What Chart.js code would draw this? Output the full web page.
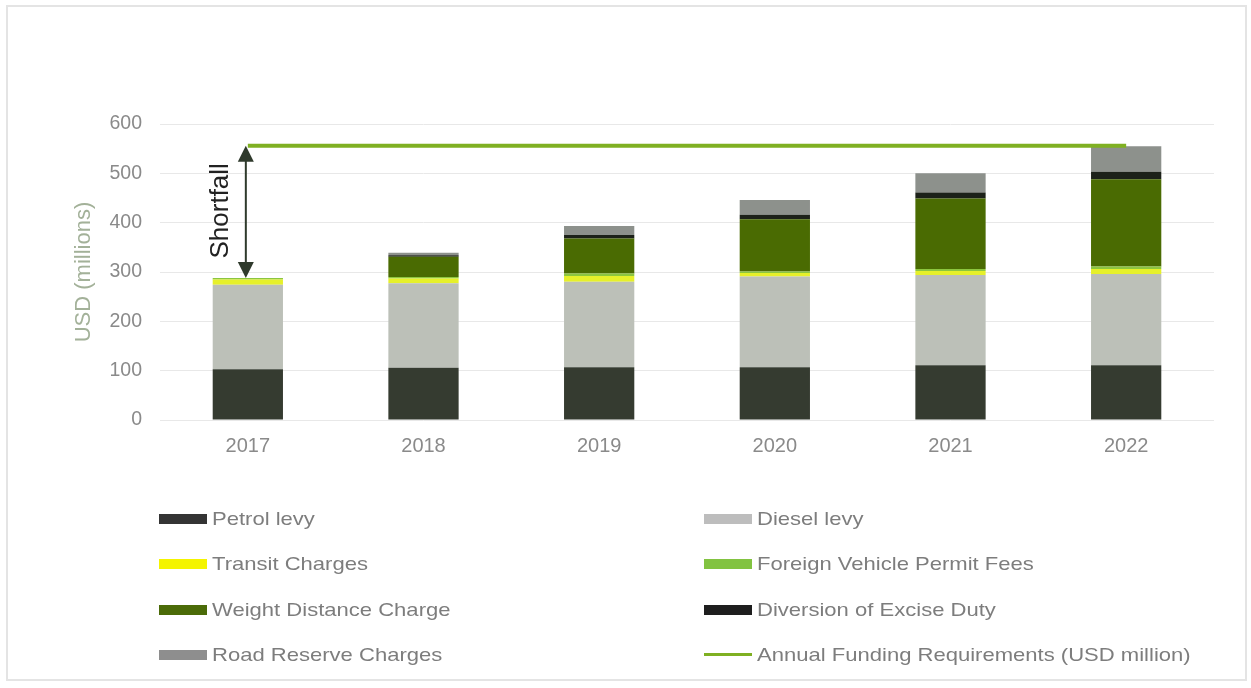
<!DOCTYPE html>
<html>
<head>
<meta charset="utf-8">
<script src="https://cdn.jsdelivr.net/npm/chart.js@4/dist/chart.umd.min.js"></script>
<style>
  html, body { margin: 0; padding: 0; background: #ffffff; }
  #frame {
    position: absolute; left: 6px; top: 5px; width: 1241px; height: 676px;
    border: 2px solid #e4e4e4; box-sizing: border-box;
  }
  #wrap { position: absolute; left: 0; top: 0; width: 1251px; height: 688px; }
  #legend { position: absolute; left: 0; top: 0; width: 1251px; height: 688px; pointer-events: none; }
  .item {
    position: absolute; display: flex; align-items: center; height: 24px;
    font-family: "Liberation Sans", Arial, sans-serif; font-size: 19px; color: #7d7d7d;
    white-space: nowrap;
  }
  .sw { width: 48px; height: 10px; margin-right: 5px; flex: none; }
  .sw.line { height: 3px; }
  .txt { display: inline-block; transform: scaleX(1.16); transform-origin: left center; }
</style>
</head>
<body>
<div id="frame"></div>
<div id="wrap"><canvas id="c" width="1251" height="688"></canvas></div>
<div id="legend"></div>
<script>
// Road fund revenue sources by year (USD millions)
const years = ['2017', '2018', '2019', '2020', '2021', '2022'];
const petrolLevy = [103, 106, 107, 107, 111, 111];
const dieselLevy = [171, 171, 173, 184, 183, 185];
const transitCharges = [11, 10, 12, 7, 8, 10];
const foreignVehicleFees = [3, 3, 5, 3, 4, 5];
const weightDistanceCharge = [0, 41, 71, 106, 143, 177];
const exciseDiversion = [0, 3, 7, 9, 12, 15];
const roadReserveCharges = [0, 5, 18, 30, 39, 52];
const fundingRequirement = [556, 556, 556, 556, 556, 556];
const yTicks = [0, 100, 200, 300, 400, 500, 600];

const FONT = '"Liberation Sans", Arial, sans-serif';

const barSeries = [
  { label: 'Petrol levy', data: petrolLevy, color: '#353b30', legendColor: '#343434' },
  { label: 'Diesel levy', data: dieselLevy, color: '#bcc0b8', legendColor: '#bdbdbd' },
  { label: 'Transit Charges', data: transitCharges, color: '#e6f02a', legendColor: '#f4f400' },
  { label: 'Foreign Vehicle Permit Fees', data: foreignVehicleFees, color: '#8cc63f', legendColor: '#82c341' },
  { label: 'Weight Distance Charge', data: weightDistanceCharge, color: '#4a6b02', legendColor: '#4b6b08' },
  { label: 'Diversion of Excise Duty', data: exciseDiversion, color: '#1c2119', legendColor: '#1e1e1e' },
  { label: 'Road Reserve Charges', data: roadReserveCharges, color: '#8d918c', legendColor: '#8e8e8e' }
];

const datasets = barSeries.map(s => ({
  type: 'bar',
  label: s.label,
  data: s.data,
  backgroundColor: s.color,
  legendColor: s.legendColor,
  borderWidth: 0,
  stack: 'revenue',
  categoryPercentage: 1,
  barPercentage: 0.4,
  order: 2
}));

datasets.push({
  type: 'line',
  label: 'Annual Funding Requirements (USD million)',
  data: fundingRequirement,
  borderColor: '#7fb022',
  legendColor: '#7fb022',
  borderWidth: 4,
  pointRadius: 0,
  fill: false,
  stack: 'requirement',
  order: 1
});

// Double-headed arrow marking the gap between requirement and first-year revenue
const shortfallArrow = {
  id: 'shortfallArrow',
  afterDatasetsDraw(chart) {
    const x = chart.scales.x.getPixelForValue(0) - 2;
    const y = chart.scales.y;
    const revenue2017 = barSeries.reduce((sum, s) => sum + s.data[0], 0);
    const yTop = y.getPixelForValue(fundingRequirement[0]);
    const yBot = y.getPixelForValue(revenue2017);
    const ctx = chart.ctx;
    const head = 16, half = 8;
    ctx.save();
    ctx.strokeStyle = '#2f3a2c';
    ctx.fillStyle = '#2f3a2c';
    ctx.lineWidth = 2;
    ctx.beginPath();
    ctx.moveTo(x, yTop + head - 1);
    ctx.lineTo(x, yBot - head + 1);
    ctx.stroke();
    ctx.beginPath();
    ctx.moveTo(x, yTop);
    ctx.lineTo(x - half, yTop + head);
    ctx.lineTo(x + half, yTop + head);
    ctx.closePath();
    ctx.fill();
    ctx.beginPath();
    ctx.moveTo(x, yBot);
    ctx.lineTo(x - half, yBot - head);
    ctx.lineTo(x + half, yBot - head);
    ctx.closePath();
    ctx.fill();
    ctx.translate(x - 25, (yTop + yBot) / 2 - 1);
    ctx.rotate(-Math.PI / 2);
    ctx.font = '26px ' + FONT;
    ctx.fillStyle = '#222222';
    ctx.textAlign = 'center';
    ctx.textBaseline = 'middle';
    ctx.fillText('Shortfall', 0, 0);
    ctx.restore();
  }
};

const chart = new Chart(document.getElementById('c'), {
  data: { labels: years, datasets },
  options: {
    responsive: false,
    animation: false,
    layout: { padding: { top: 124, left: 0, right: 37, bottom: 228 } },
    plugins: { legend: { display: false }, tooltip: { enabled: false } },
    scales: {
      x: {
        stacked: true,
        grid: { display: false, drawTicks: false },
        border: { display: false },
        ticks: { color: '#8a8a8a', font: { family: FONT, size: 20 }, padding: 14 },
        afterFit(scale) { scale.height = 40; }
      },
      y: {
        stacked: true,
        min: 0,
        max: 600,
        afterBuildTicks(scale) { scale.ticks = yTicks.map(v => ({ value: v })); },
        grid: { color: '#e8e8e8', lineWidth: 1, drawTicks: false },
        border: { display: false },
        ticks: { color: '#8a8a8a', font: { family: FONT, size: 19.5 }, padding: 18 },
        title: {
          display: true,
          text: 'USD (millions)',
          color: '#a3b199',
          font: { family: FONT, size: 22 },
          padding: { top: 71, bottom: 0 }
        },
        afterFit(scale) { scale.width = 160; }
      }
    }
  },
  plugins: [shortfallArrow]
});

// Two-column legend built from the chart's datasets
const legend = document.getElementById('legend');
chart.data.datasets.forEach((ds, i) => {
  const col = i % 2, row = Math.floor(i / 2);
  const item = document.createElement('div');
  item.className = 'item';
  item.style.left = (col === 0 ? 159 : 704) + 'px';
  item.style.top = (519 + row * 45.3 - 12) + 'px';
  const sw = document.createElement('span');
  sw.className = 'sw' + (ds.type === 'line' ? ' line' : '');
  sw.style.background = ds.legendColor;
  const txt = document.createElement('span');
  txt.className = 'txt';
  txt.textContent = ds.label;
  item.appendChild(sw);
  item.appendChild(txt);
  legend.appendChild(item);
});
</script>
</body>
</html>
